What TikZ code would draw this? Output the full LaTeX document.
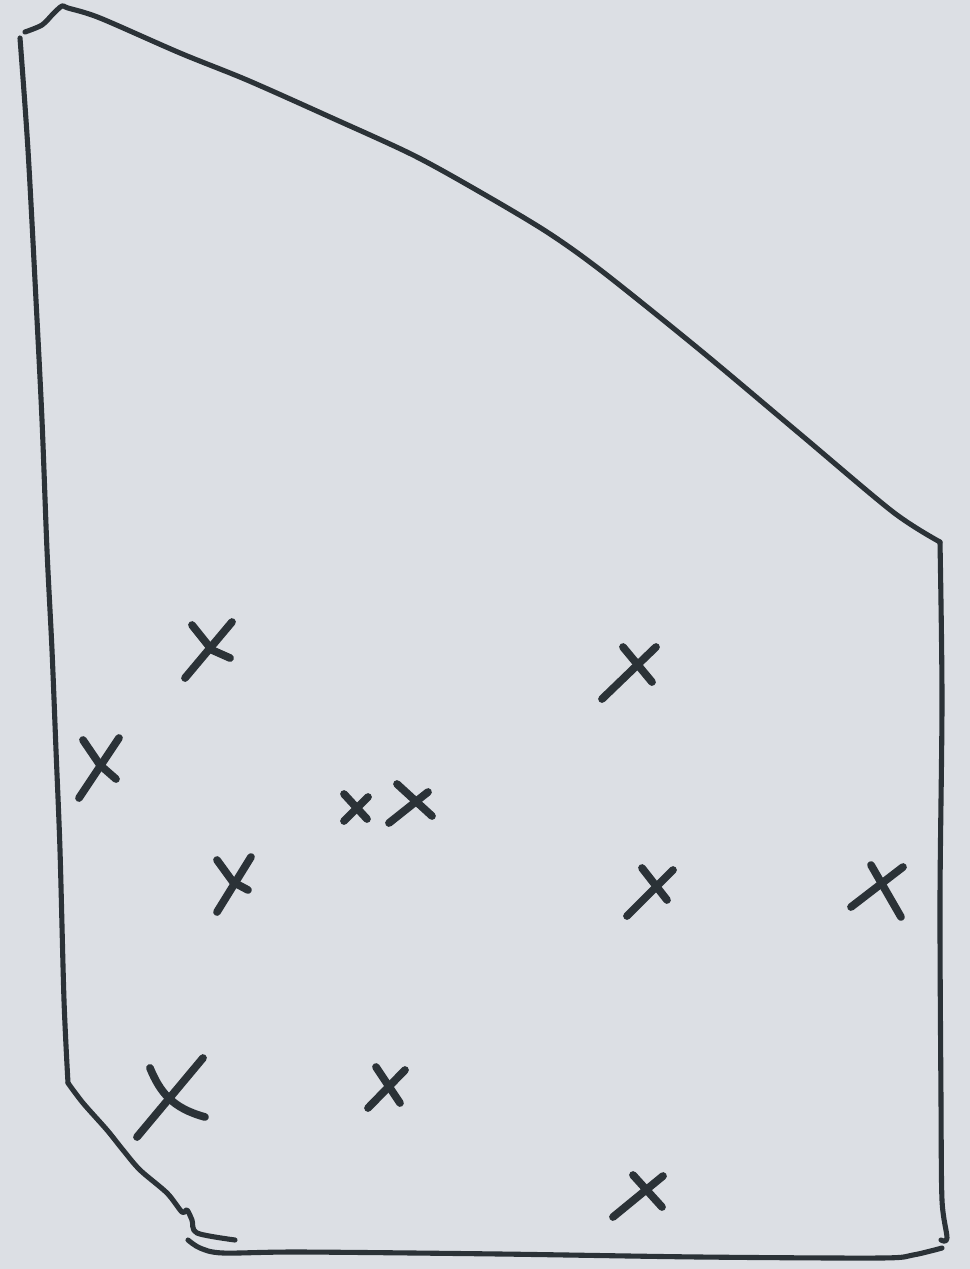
\documentclass[tikz,border=0pt]{standalone}
\begin{document}
\begin{tikzpicture}[x=0.02cm,y=-0.02cm,
  outline/.style={draw=ink,line width=2.9pt,line cap=round,line join=round},
  cross/.style={draw=ink,line width=4.4pt,line cap=round}]
\definecolor{ink}{HTML}{2B3237}
\definecolor{paper}{HTML}{DCDFE4}
\fill[paper] (0,0) rectangle (970,1269);
\useasboundingbox (0,0) rectangle (970,1269);
% left side
\draw[outline] plot[smooth,tension=0.5] coordinates {(20,38) (28,150) (36,300) (42,420) (47,550) (52,650) (56,750) (60,850) (64,1000) (68,1083)};
% top-left hook and top edge
\draw[outline] plot[smooth,tension=0.5] coordinates {(25,32) (42,25) (53,14) (62,6) (68,8) (100,18) (180,53) (247,80) (330,117) (413,155) (480,192) (547,232) (603,272) (700,350) (800,434) (893,512) (940,542)};
% right side
\draw[outline] plot[smooth,tension=0.5] coordinates {(940,542) (942,700) (940,900) (941,1100) (942,1200) (947,1238) (941,1240)};
% bottom edge
\draw[outline] plot[smooth,tension=0.5] coordinates {(942,1248) (913,1255) (880,1258) (700,1257) (500,1254) (300,1252) (223,1253) (200,1248) (188,1240)};
% lower-left diagonal
\draw[outline] plot[smooth,tension=0.5] coordinates {(68,1083) (83,1103) (107,1130) (123,1150) (140,1170) (167,1193) (182,1212) (187,1210) (192,1220) (197,1233) (235,1240)};
% crosses
\draw[cross] (232,622) -- (185,678); \draw[cross] (192,625) -- (212,650) -- (230,658);
\draw[cross] (119,738) -- (79,798); \draw[cross] (83,740) -- (100,765) -- (116,779);
\draw[cross] (251,857) -- (217,912); \draw[cross] (217,860) -- (233,882) -- (248,890);
\draw[cross] (368,797) -- (344,821); \draw[cross] (344,794) -- (367,819);
\draw[cross] (428,792) -- (389,823); \draw[cross] (397,784) -- (432,816);
\draw[cross] (656,647) -- (602,699); \draw[cross] (623,647) -- (652,682);
\draw[cross] (673,870) -- (627,916); \draw[cross] (642,868) -- (667,900);
\draw[cross] (903,867) -- (851,907); \draw[cross] (871,865) -- (901,917);
\draw[cross] (405,1070) -- (368,1108); \draw[cross] (376,1067) -- (400,1103);
\draw[cross] (663,1176) -- (613,1217); \draw[cross] (633,1175) -- (662,1207);
\draw[cross] (203,1058) -- (137,1137); \draw[cross] (150,1068) .. controls (160,1092) and (172,1108) .. (205,1117);
\end{tikzpicture}
\end{document}
